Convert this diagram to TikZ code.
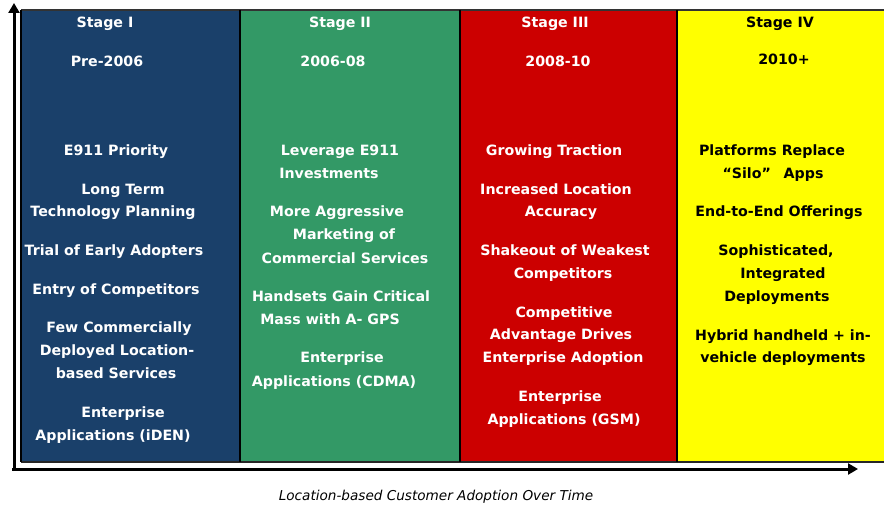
\documentclass[tikz,border=0pt]{standalone}
\usepackage{fontspec}
\setmainfont{DejaVu Sans}
\usetikzlibrary{arrows.meta}
\definecolor{stagenavy}{HTML}{1A406A}
\definecolor{stagegreen}{HTML}{339966}
\definecolor{stagered}{HTML}{CC0000}
\definecolor{stageyellow}{HTML}{FFFF00}
\tikzset{
  panel/.style={draw=black, line width=1.8pt},
  axis/.style={line width=3pt, -{Triangle[length=10pt,width=11pt]}},
  lbl/.style={font=\fontsize{14.2}{16}\bfseries, inner sep=0pt, text height=10.4pt, text depth=0pt, anchor=center},
  wl/.style={lbl, text=white},
  bl/.style={lbl, text=black},
  caption/.style={font=\fontsize{13.6}{15}\itshape, inner sep=0pt, anchor=center}
}
\begin{document}
\begin{tikzpicture}[x=1pt,y=-1pt]
\useasboundingbox (0,0) rectangle (884,508);
% stage panels
\fill[stageyellow] (677,10) rectangle (884,462);
\fill[stagered] (460,10) rectangle (677,462);
\fill[stagegreen] (240,10) rectangle (460,462);
\fill[stagenavy] (21,10) rectangle (240,462);
\draw[line width=1.4pt, black!80] (21,10) -- (884,10);
\draw[line width=1.8pt, black!85] (21,462) -- (884,462);
\draw[panel] (21,10) -- (21,462);
\draw[panel] (240,10) -- (240,462);
\draw[panel] (460,10) -- (460,462);
\draw[panel] (677,10) -- (677,462);
% axes
\coordinate (origin) at (14,471);
\coordinate (ytip) at (14,3);
\coordinate (xstart) at (12,469);
\coordinate (xtip) at (858,469);
\draw[axis] (origin) -- (ytip);
\draw[axis] (xstart) -- (xtip);
% Stage I
\node[wl] (s1h) at (105,22) {Stage I};
\node[wl] (s1y) at (107,61) {Pre-2006};
\node[wl] (s1a) at (116,150) {E911 Priority};
\node[wl] (s1b) at (123,189) {Long Term};
\node[wl] (s1c) at (113,211) {Technology Planning};
\node[wl] (s1d) at (114,250) {Trial of Early Adopters};
\node[wl] (s1e) at (116,289) {Entry of Competitors};
\node[wl] (s1f) at (119,327) {Few Commercially};
\node[wl] (s1g) at (117,350) {Deployed Location-};
\node[wl] (s1h2) at (116,373) {based Services};
\node[wl] (s1i) at (123,412) {Enterprise};
\node[wl] (s1j) at (113,435) {Applications (iDEN)};
% Stage II
\node[wl] (s2h) at (340,22) {Stage II};
\node[wl] (s2y) at (333,61) {2006-08};
\node[wl] (s2a) at (340,150) {Leverage E911};
\node[wl] (s2b) at (329,173) {Investments};
\node[wl] (s2c) at (337,211) {More Aggressive};
\node[wl] (s2d) at (344,234) {Marketing of};
\node[wl] (s2e) at (345,258) {Commercial Services};
\node[wl] (s2f) at (341,296) {Handsets Gain Critical};
\node[wl] (s2g) at (330,319) {Mass with A- GPS};
\node[wl] (s2i) at (342,357) {Enterprise};
\node[wl] (s2j) at (334,381) {Applications (CDMA)};
% Stage III
\node[wl] (s3h) at (555,22) {Stage III};
\node[wl] (s3y) at (558,61) {2008-10};
\node[wl] (s3a) at (554,150) {Growing Traction};
\node[wl] (s3b) at (556,189) {Increased Location};
\node[wl] (s3c) at (561,211) {Accuracy};
\node[wl] (s3d) at (565,250) {Shakeout of Weakest};
\node[wl] (s3e) at (563,273) {Competitors};
\node[wl] (s3f) at (564,312) {Competitive};
\node[wl] (s3g) at (561,334) {Advantage Drives};
\node[wl] (s3k) at (563,357) {Enterprise Adoption};
\node[wl] (s3i) at (560,396) {Enterprise};
\node[wl] (s3j) at (564,419) {Applications (GSM)};
% Stage IV
\node[bl] (s4h) at (780,22) {Stage IV};
\node[bl] (s4y) at (784,59) {2010+};
\node[bl] (s4a) at (772,150) {Platforms Replace};
\node[bl] (s4b) at (773,173) {“Silo”\hspace{0.9em}Apps};
\node[bl] (s4c) at (779,211) {End-to-End Offerings};
\node[bl] (s4d) at (776,250) {Sophisticated,};
\node[bl] (s4e) at (783,273) {Integrated};
\node[bl] (s4f) at (777,296) {Deployments};
\node[bl] (s4g) at (783,335) {Hybrid handheld + in-};
\node[bl] (s4k) at (783,357) {vehicle deployments};
% caption
\node[caption] (cap) at (436,497) {Location-based Customer Adoption Over Time};
\end{tikzpicture}
\end{document}
